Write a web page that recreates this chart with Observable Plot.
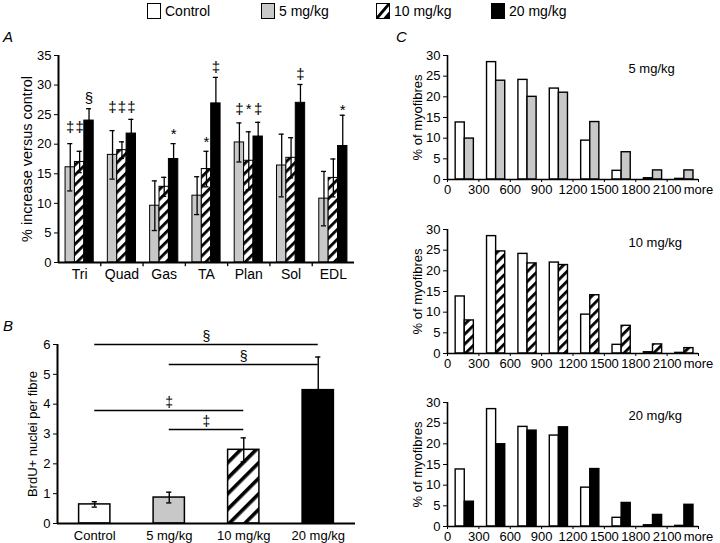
<!DOCTYPE html>
<html><head><meta charset="utf-8">
<script src="https://cdn.jsdelivr.net/npm/d3@7"></script>
<script src="https://cdn.jsdelivr.net/npm/@observablehq/plot@0.6"></script>
<style>
html,body{margin:0;padding:0;background:#fff}
body{width:720px;height:543px;overflow:hidden;position:relative;font-family:"Liberation Sans",Arial,sans-serif;color:#000}
.panel{position:absolute}
.letter{position:absolute;font-style:italic;font-size:15px;line-height:15px}
.leg{position:absolute;top:3px;display:flex;align-items:center;font-size:14px;line-height:15px}
.leg svg{margin-right:4px}
#pA g[aria-label^="x-axis"] text {font-size:14px}
</style></head><body>
<svg width="0" height="0" style="position:absolute">
<defs>
<pattern id="hatchA" patternUnits="userSpaceOnUse" width="7" height="7" patternTransform="rotate(45)">
<rect width="7" height="7" fill="#fff"/><rect x="0" y="0" width="2.8" height="7" fill="#000"/></pattern>
<pattern id="hatchB" patternUnits="userSpaceOnUse" width="11" height="11" patternTransform="rotate(45)">
<rect width="11" height="11" fill="#fff"/><rect x="0" y="0" width="3.6" height="11" fill="#000"/></pattern>
</defs></svg>
<div id="legend"></div>
<div class="letter" style="left:3px;top:29px">A</div>
<div class="letter" style="left:3px;top:318px">B</div>
<div class="letter" style="left:396px;top:29px">C</div>
<div id="pA" class="panel" style="left:0;top:40px"></div>
<div id="pB" class="panel" style="left:0;top:330px"></div>
<div id="pC1" class="panel" style="left:370px;top:45px"></div>
<div id="pC2" class="panel" style="left:370px;top:219px"></div>
<div id="pC3" class="panel" style="left:370px;top:392px"></div>
<script>
// ---------- data ----------
const legendLabels = ["Control", "5 mg/kg", "10 mg/kg", "20 mg/kg"];
// Panel A
const muscles = ["Tri", "Quad", "Gas", "TA", "Plan", "Sol", "EDL"];
const dosesA = ["5 mg/kg", "10 mg/kg", "20 mg/kg"];
const increase5  = [16.1, 18.2, 9.6, 11.3, 20.3, 16.4, 10.8];
const increase10 = [17.0, 19.0, 12.8, 15.8, 17.2, 17.7, 14.3];
const increase20 = [24.0, 21.8, 17.5, 26.9, 21.3, 27.0, 19.7];
const err5  = [4.0, 4.1, 4.2, 3.2, 3.3, 5.3, 4.6];
const err10 = [1.8, 1.4, 1.6, 3.0, 4.9, 3.4, 3.2];
const err20 = [2.0, 2.4, 2.6, 4.4, 2.4, 3.1, 5.2];
const sigMuscle = ["Tri","Tri","Tri","Quad","Quad","Quad","Gas","TA","TA","Plan","Plan","Plan","Sol","EDL"];
const sigDose   = ["5 mg/kg","10 mg/kg","20 mg/kg","5 mg/kg","10 mg/kg","20 mg/kg","20 mg/kg","10 mg/kg","20 mg/kg","5 mg/kg","10 mg/kg","20 mg/kg","20 mg/kg","20 mg/kg"];
const sigMark   = ["‡","‡","§","‡","‡","‡","*","*","‡","‡","*","‡","‡","*"];
const sigY      = [22.9, 22.9, 27.7, 26.3, 26.3, 26.3, 21.7, 20.4, 33.0, 26.0, 26.0, 26.0, 31.9, 25.7];
// Panel B
const groupsB = ["Control", "5 mg/kg", "10 mg/kg", "20 mg/kg"];
const brdu    = [0.64, 0.87, 2.47, 4.47];
const brduErr = [0.09, 0.18, 0.40, 1.11];
const sigBFrom = ["Control", "5 mg/kg", "Control", "5 mg/kg"];
const sigBTo   = ["20 mg/kg", "20 mg/kg", "10 mg/kg", "10 mg/kg"];
const sigBMark = ["§", "§", "‡", "‡"];
const sigBY    = [6.0, 5.33, 3.79, 3.15];
// Panel C
const binLabels  = ["0", "300", "600", "900", "1200", "1500", "1800", "2100", "more"];
const controlPct = [13.8, 28.4, 24.1, 22.0, 9.4, 2.1, 0.3, 0.15];
const pct5  = [9.9, 23.9, 20.0, 21.0, 13.9, 6.6, 2.2, 2.2];
const pct10 = [8.0, 24.7, 21.8, 21.4, 14.1, 6.7, 2.2, 1.3];
const pct20 = [6.0, 19.9, 23.2, 24.0, 13.9, 5.7, 2.8, 5.25];
const histTitles = ["5 mg/kg", "10 mg/kg", "20 mg/kg"];

// ---------- styles ----------
const fontFamily = '"Liberation Sans", Arial, sans-serif';
const GRAY = "#c8c8c8";
const baseStyle = {fontSize: "13px", fontFamily, background: "none", overflow: "visible", color: "#000"};
const yLabelOpts = {frameAnchor: "left", rotate: -90, textAnchor: "middle", lineAnchor: "middle", fill: "#000"};

// ---------- legend ----------
const legendFills = ["#fff", GRAY, "hatch", "#000"];
const legendLeft = [147, 261, 376, 491];
const legend = document.getElementById("legend");
legendLabels.forEach((lab, k) => {
  const div = document.createElement("div");
  div.className = "leg";
  div.style.left = legendLeft[k] + "px";
  const f = legendFills[k];
  const icon = f === "hatch"
    ? '<svg width="14" height="16"><rect x="0.5" y="0.5" width="13" height="15" fill="#fff" stroke="#000"/><path d="M1,15 L13,1" stroke="#000" stroke-width="2.8"/><path d="M7,15.5 L13.5,15.5 L13.5,8 Z" fill="#000"/></svg>'
    : `<svg width="14" height="16"><rect x="0.5" y="0.5" width="13" height="15" fill="${f}" stroke="#000"/></svg>`;
  div.innerHTML = icon + "<span>" + lab + "</span>";
  legend.appendChild(div);
});

// ---------- Panel A ----------
const valsA = [increase5, increase10, increase20];
const errsA = [err5, err10, err20];
const fillsA = [GRAY, "url(#hatchA)", "#000"];
const bwA = 0.222;
const rowsA = muscles.flatMap((m, i) => dosesA.map((d, s) => ({muscle: m, i, s, dose: d, value: valsA[s][i], err: errsA[s][i]})));
const leftA = d => d.i + (d.s - 1.5) * bwA;
const midA = d => leftA(d) + bwA / 2;
const sigA = sigMark.map((mk, k) => ({i: muscles.indexOf(sigMuscle[k]), s: dosesA.indexOf(sigDose[k]), mark: mk, y: sigY[k]}));
const xDomA = [-0.5, muscles.length - 0.5];
const capA = 0.06;

const plotA = Plot.plot({
  width: 360, height: 250, marginLeft: 58, marginRight: 6, marginTop: 15, marginBottom: 28,
  style: baseStyle,
  x: {domain: xDomA, ticks: muscles.map((_, i) => i), tickFormat: i => muscles[i], tickSize: 0, tickPadding: 7, label: null},
  y: {domain: [0, 35], ticks: d3.range(0, 36, 5), tickFormat: d3.format("d"), tickSize: 4, tickPadding: 3, label: null},
  marks: [
    ...dosesA.map((d, s) => Plot.rectY(rowsA.filter(r => r.s === s), {x1: leftA, x2: d => leftA(d) + bwA, y: "value", fill: fillsA[s], stroke: "#000", strokeWidth: 1})),
    Plot.ruleX(rowsA, {x: midA, y1: d => d.value - d.err, y2: d => d.value + d.err, stroke: "#000", strokeWidth: 1.3}),
    Plot.ruleY(rowsA, {y: d => d.value + d.err, x1: d => midA(d) - capA, x2: d => midA(d) + capA, stroke: "#000", strokeWidth: 1.3}),
    Plot.ruleY(rowsA, {y: d => d.value - d.err, x1: d => midA(d) - capA, x2: d => midA(d) + capA, stroke: "#000", strokeWidth: 1.3}),
    Plot.text(sigA, {x: midA, y: "y", text: "mark", fontSize: 15, fill: "#000"}),
    Plot.ruleX(muscles.slice(1).map((_, i) => i + 0.5), {y1: 0, y2: -0.7, stroke: "#000", strokeWidth: 1.3}),
    Plot.ruleY([0], {x1: xDomA[0], x2: xDomA[1], stroke: "#000", strokeWidth: 2}),
    Plot.ruleX([xDomA[0]], {y1: 0, y2: 35, stroke: "#000", strokeWidth: 2}),
    Plot.text(["% increase versus control"], {text: d => d, dx: -31, fontSize: 14.5, ...yLabelOpts})
  ]
});
document.getElementById("pA").appendChild(plotA);

// ---------- Panel B ----------
const rowsB = groupsB.map((g, i) => ({g, i, v: brdu[i], e: brduErr[i]}));
const fillsB = ["#fff", GRAY, "url(#hatchB)", "#000"];
const hwB = 0.21, capB = 0.035;
const xDomB = [-0.5, groupsB.length - 0.5];
const sigB = sigBMark.map((mk, k) => ({a: groupsB.indexOf(sigBFrom[k]), b: groupsB.indexOf(sigBTo[k]), mark: mk, y: sigBY[k]}));
const plotB = Plot.plot({
  width: 360, height: 213, marginLeft: 57, marginRight: 5, marginTop: 14, marginBottom: 20,
  style: baseStyle,
  x: {domain: xDomB, ticks: groupsB.map((_, i) => i), tickFormat: i => groupsB[i], tickSize: 0, tickPadding: 7, label: null},
  y: {domain: [0, 6], ticks: d3.range(0, 7), tickFormat: d3.format("d"), tickSize: 4, tickPadding: 3, label: null},
  marks: [
    ...rowsB.map(r => Plot.rectY([r], {x1: d => d.i - hwB, x2: d => d.i + hwB, y: "v", fill: fillsB[r.i], stroke: "#000", strokeWidth: 1.5})),
    Plot.ruleX(rowsB, {x: "i", y1: d => d.v - d.e, y2: d => d.v + d.e, stroke: "#000", strokeWidth: 1.4}),
    Plot.ruleY(rowsB, {y: d => d.v + d.e, x1: d => d.i - capB, x2: d => d.i + capB, stroke: "#000", strokeWidth: 1.4}),
    Plot.ruleY(rowsB, {y: d => d.v - d.e, x1: d => d.i - capB, x2: d => d.i + capB, stroke: "#000", strokeWidth: 1.4}),
    Plot.ruleY(sigB, {y: "y", x1: "a", x2: "b", stroke: "#000", strokeWidth: 1.5}),
    Plot.text(sigB, {x: d => (d.a + d.b) / 2, y: "y", text: "mark", dy: -8, fontSize: 14, fill: "#000"}),
    Plot.ruleY([0], {x1: xDomB[0], x2: xDomB[1], stroke: "#000", strokeWidth: 2}),
    Plot.ruleX([xDomB[0]], {y1: 0, y2: 6, stroke: "#000", strokeWidth: 2}),
    Plot.text(["BrdU+ nuclei per fibre"], {text: d => d, dx: -25, fontSize: 13, ...yLabelOpts})
  ]
});
document.getElementById("pB").appendChild(plotB);

// ---------- Panel C ----------
const ctrlOff = [0.26, 0.55], doseOff = [0.55, 0.84];
function histPlot(dosePct, fill, title) {
  const ctrl = controlPct.map((v, i) => ({i, v}));
  const dose = dosePct.map((v, i) => ({i, v}));
  const nb = controlPct.length;
  return Plot.plot({
    width: 350, height: 150, marginLeft: 77, marginRight: 22, marginTop: 10, marginBottom: 16,
    style: baseStyle,
    x: {domain: [0, nb], ticks: binLabels.map((_, i) => i), tickFormat: i => binLabels[i], tickSize: 3, tickPadding: 2, label: null},
    y: {domain: [0, 30], ticks: d3.range(0, 31, 5), tickFormat: d3.format("d"), tickSize: 4, tickPadding: 3, label: null},
    marks: [
      Plot.rectY(ctrl, {x1: d => d.i + ctrlOff[0], x2: d => d.i + ctrlOff[1], y: "v", fill: "#fff", stroke: "#000", strokeWidth: 1.4}),
      Plot.rectY(dose, {x1: d => d.i + doseOff[0], x2: d => d.i + doseOff[1], y: "v", fill, stroke: "#000", strokeWidth: 1.4}),
      Plot.ruleY([0], {x1: 0, x2: nb, stroke: "#000", strokeWidth: 1.6}),
      Plot.ruleX([0], {y1: 0, y2: 30, stroke: "#000", strokeWidth: 1.6}),
      Plot.text([title], {text: d => d, frameAnchor: "top-right", textAnchor: "start", lineAnchor: "middle", dx: -70, dy: 13, fontSize: 13, fill: "#000"}),
      Plot.text(["% of myofibres"], {text: d => d, dx: -30, fontSize: 13, ...yLabelOpts})
    ]
  });
}
document.getElementById("pC1").appendChild(histPlot(pct5, GRAY, histTitles[0]));
document.getElementById("pC2").appendChild(histPlot(pct10, "url(#hatchA)", histTitles[1]));
document.getElementById("pC3").appendChild(histPlot(pct20, "#000", histTitles[2]));
</script>
</body></html>
